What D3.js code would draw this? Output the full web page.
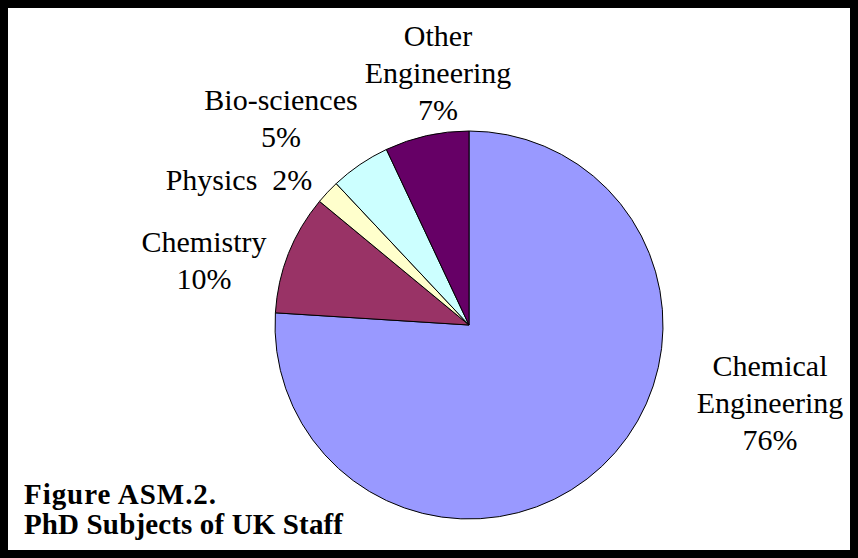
<!DOCTYPE html>
<html>
<head>
<meta charset="utf-8">
<script src="https://cdn.jsdelivr.net/npm/d3@7"></script>
<style>
  html, body { margin: 0; padding: 0; background: #000; }
  svg { display: block; }
  text { font-family: "Liberation Serif", "Times New Roman", serif; }
</style>
</head>
<body>
<svg id="chart" width="858" height="558"></svg>
<script>
// ---- data ----
const categories = ["Chemical Engineering", "Chemistry", "Physics", "Bio-sciences", "Other Engineering"];
const values = [76, 10, 2, 5, 7];
const labelLines = [
  ["Chemical", "Engineering", "76%"],
  ["Chemistry", "10%"],
  ["Physics  2%"],
  ["Bio-sciences", "5%"],
  ["Other", "Engineering", "7%"]
];
const titleLines = ["Figure ASM.2.", "PhD Subjects of UK Staff"];

// ---- styles / layout ----
const colors = ["#9999FF", "#993366", "#FFFFCC", "#CCFFFF", "#660066"];
const labelPos = [
  [770, 376], [204, 252], [239, 190], [281, 110], [438, 46]
];
const titleWidths = [192, 319];
const W = 858, H = 558;
const cx = 469, cy = 325, R = 194;
const lineH = 37;

const svg = d3.select("#chart");
svg.append("rect").attr("x", 0).attr("y", 0).attr("width", W).attr("height", H).attr("fill", "#000");
svg.append("rect").attr("x", 8).attr("y", 8).attr("width", W - 16).attr("height", H - 16).attr("fill", "#fff");

const data = categories.map((c, i) => ({ name: c, value: values[i], idx: i }));
const pie = d3.pie().value(d => d.value).sort(null).startAngle(0).endAngle(2 * Math.PI);
const arc = d3.arc().innerRadius(0).outerRadius(R);

const g = svg.append("g").attr("transform", `translate(${cx},${cy})`);
g.selectAll("path").data(pie(data)).join("path")
  .attr("d", arc)
  .attr("fill", d => colors[d.data.idx])
  .attr("stroke", "#000")
  .attr("stroke-width", 1)
  .attr("stroke-linejoin", "round");

const labels = svg.append("g")
  .attr("font-size", 30)
  .attr("fill", "#000")
  .attr("text-anchor", "middle");
data.forEach((d, i) => {
  const t = labels.append("text").style("white-space", "pre");
  labelLines[i].forEach((ln, j) => {
    t.append("tspan").attr("x", labelPos[i][0]).attr("y", labelPos[i][1] + j * lineH).text(ln);
  });
});

const title = svg.append("g")
  .attr("font-size", 29)
  .attr("font-weight", "bold")
  .attr("fill", "#000");
titleLines.forEach((ln, j) => {
  title.append("text").attr("x", 24).attr("y", 504 + j * 30)
    .attr("textLength", titleWidths[j]).attr("lengthAdjust", "spacing")
    .text(ln);
});
</script>
</body>
</html>
